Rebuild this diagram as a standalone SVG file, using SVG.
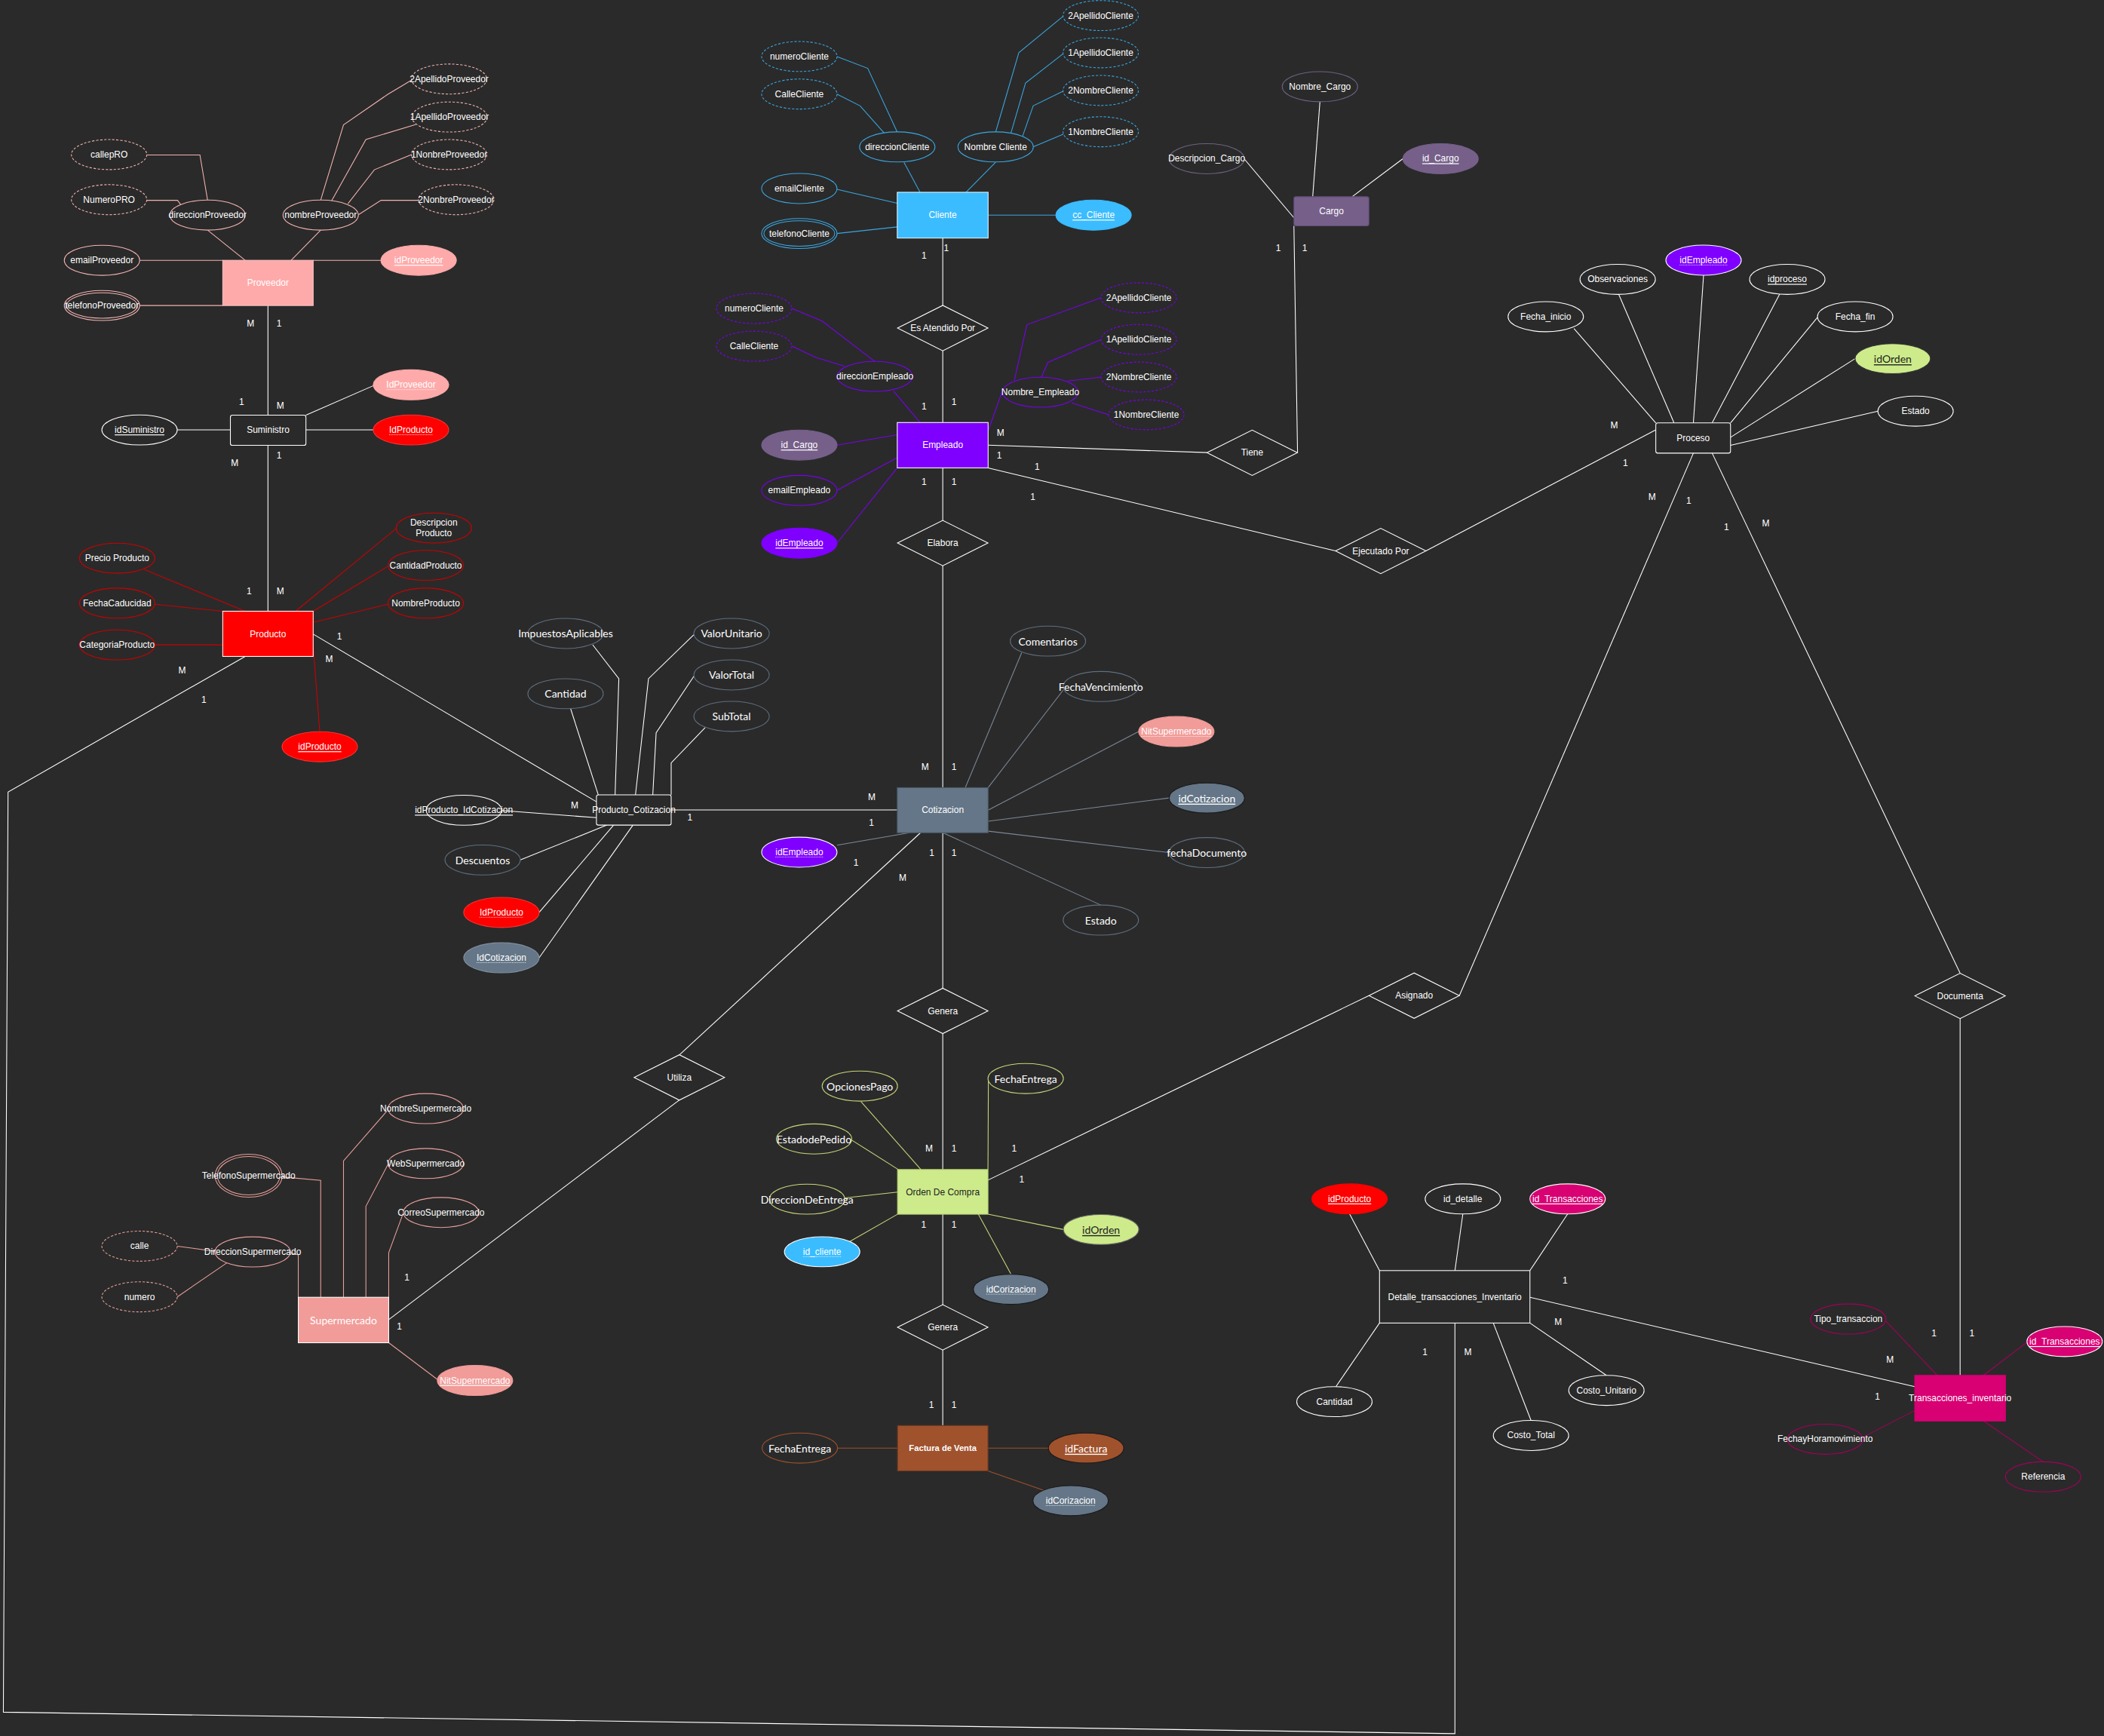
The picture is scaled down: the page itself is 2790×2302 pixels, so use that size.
<svg xmlns="http://www.w3.org/2000/svg" width="2790" height="2302" viewBox="0 0 2790 2302">
<style>
text{font-family:"Liberation Sans",Arial,Helvetica,sans-serif;font-size:6.74px;fill:#ffffff;text-anchor:middle;dominant-baseline:central}
text.lg{font-family:Lato,"Open Sans",sans-serif;font-size:7.87px}
text.dk{fill:#222222}
text.u{text-decoration:underline}
text.b{font-weight:bold}
text.cd{font-size:6.74px}
.c path{fill:none;stroke-width:0.6}
ellipse,rect,polygon{stroke-width:0.6}
.e{fill:#2a2a2a}
.dsh{stroke-dasharray:1.8 1.2}
.rel{fill:#2a2a2a;stroke:#ffffff}
.dot{stroke:#ffffff;stroke-width:0.45;stroke-dasharray:0.6 0.6}
.w{stroke:#ffffff}
.pv{stroke:#f2b4b2}
.cl{stroke:#3aa6e0}
.em{stroke:#7a00f0}
.pr{stroke:#cc0000}
.sl{stroke:#5f6e7e}
.gy{stroke:#7d8997}
.og{stroke:#c8d77a}
.fa{stroke:#a0522d}
.sm{stroke:#e9a09c}
.tr{stroke:#a3005c}
.cg{stroke:#6e6280}
.k{stroke:#1a1a1a}
.fpk{fill:#ffaaaa}
.fred{fill:#ff0000}
.fblu{fill:#3bbcff}
.fpur{fill:#7f00ff}
.fcg{fill:#76608a}
.fsl{fill:#647687}
.fgr{fill:#cdeb8b}
.ffa{fill:#a0522d}
.fsm{fill:#f19c99}
.fmg{fill:#d80073}
</style>
<rect width="2790" height="2302" fill="#2a2a2a"/>
<g transform="scale(1.7793)">

<g id="connectors" class="c">
<!-- Proveedor attrs -->
<path class="pv" d="M233.4,194 H283.9"/>
<path class="pv" d="M104.1,194 H166"/>
<path class="pv" d="M104.1,227.7 H166"/>
<path class="pv" d="M154.7,171.5 L182.7,194"/>
<path class="pv" d="M239,171.5 L217,194"/>
<path class="pv" d="M109.4,115.5 H149 L154.7,149.1"/>
<path class="pv" d="M109.4,149.3 H132.3 L135,152.9"/>
<path class="pv" d="M306.7,59.7 L289.3,70.1 L256,93 L239,149.1"/>
<path class="pv" d="M310,92.7 L272.7,104 L247,149.9"/>
<path class="pv" d="M306.7,115.2 L279,126.5 L259.3,151.8"/>
<path class="pv" d="M311.9,149.3 H284 L267.1,160"/>
<!-- Suministro -->
<path class="w" d="M199.7,227.7 V309.4"/>
<path class="w" d="M199.7,331.9 V455.5"/>
<path class="w" d="M132.1,320.4 H171.7"/>
<path class="w" d="M228,309.4 L278.3,287.4"/>
<path class="w" d="M228,320.4 H278.2"/>
<!-- Producto attrs -->
<path class="pr" d="M107.7,424.5 L182.7,455.5"/>
<path class="pr" d="M115.4,450.3 L166,455.5"/>
<path class="pr" d="M115.4,480.6 H166"/>
<path class="pr" d="M295.7,393.5 L220.3,455.5"/>
<path class="pr" d="M289.2,422 L233.4,455.5"/>
<path class="pr" d="M289.2,450.3 L233.4,463.8"/>
<path class="pr" d="M233.4,481.4 L238.3,545.3"/>
<!-- Producto relations -->
<path class="w" d="M233.4,472.6 L444.5,597.5"/>
<path class="w" d="M182.7,489.2 L6,590.3 L2.5,1276 L1084.3,1292 V986"/>
<!-- Producto_Cotizacion attrs -->
<path class="w" d="M441.7,480.5 L461.2,505.8 L458.4,592.4"/>
<path class="w" d="M425.3,528.3 L445.9,592.4"/>
<path class="w" d="M517.1,473 L483.3,505.8 L473.6,592.4"/>
<path class="w" d="M517.1,504 L489,546.1 L486.5,592.4"/>
<path class="w" d="M525.5,542.3 L500.2,568.6 V592.4"/>
<path class="w" d="M373.8,604 L444.5,609.4"/>
<path class="w" d="M387.8,640.9 L452.3,614.9"/>
<path class="w" d="M401.8,680 L457.3,614.9"/>
<path class="w" d="M401.8,713.8 L471.7,614.9"/>
<path class="w" d="M500.2,603.6 H668.7"/>
<!-- Cliente attrs -->
<path class="cl" d="M736.4,160.3 H786.9"/>
<path class="cl" d="M623.7,141.1 L668.7,151.5"/>
<path class="cl" d="M623.7,174 L668.7,169.1"/>
<path class="cl" d="M673.7,121 L685.7,143.3"/>
<path class="cl" d="M742,120.9 L720,143.3"/>
<path class="cl" d="M623.7,42.1 L646.7,50.9 L668.7,98.5"/>
<path class="cl" d="M623.7,70.1 L641,78.9 L659.3,99.6"/>
<path class="cl" d="M793.3,11.3 L759.3,39.3 L742,98.5"/>
<path class="cl" d="M793.3,39.3 L764.3,61.9 L753.3,99.6"/>
<path class="cl" d="M793.3,67.4 L770,78.9 L762,101.8"/>
<path class="cl" d="M793.3,99.6 L770,109.5"/>
<!-- Cliente / Empleado relations -->
<path class="w" d="M702.6,177.4 V227.7"/>
<path class="w" d="M702.6,261.3 V314.9"/>
<path class="w" d="M736.4,331.7 L899.5,337.3"/>
<path class="w" d="M967,337.3 L964.3,168.3"/>
<path class="w" d="M736.4,348.7 L995.3,410.5"/>
<path class="w" d="M1062.7,410.5 L1234,320.4"/>
<path class="w" d="M702.6,348.7 V388"/>
<path class="w" d="M702.6,421.5 V587"/>
<!-- Empleado attrs -->
<path class="em" d="M623.7,331.7 L668.7,324"/>
<path class="em" d="M623.7,365.5 L668.7,341"/>
<path class="em" d="M623.7,404.8 L668.7,348.7"/>
<path class="em" d="M666,291.5 L685.7,314.9"/>
<path class="em" d="M590.3,229.9 L612.7,239.3 L652,269.4"/>
<path class="em" d="M590.3,258 L607.7,266.2 L629.3,272.8"/>
<path class="em" d="M746.7,292.3 L736.4,321.2"/>
<path class="em" d="M820.6,221.9 L765.3,242 L756,283.3"/>
<path class="em" d="M820.6,253 L781,270 L776,281.3"/>
<path class="em" d="M820.6,281 L796,284"/>
<path class="em" d="M826.2,309.1 L798.7,300.3"/>
<!-- Cargo attrs -->
<path class="w" d="M927.2,118.3 L964.3,162.3"/>
<path class="w" d="M983.7,75.8 L978.3,146.6"/>
<path class="w" d="M1007.7,146.6 L1045.5,118.3"/>
<!-- Proceso attrs -->
<path class="w" d="M1173,244.8 L1234,315.2"/>
<path class="w" d="M1206.3,219.2 L1247.6,315.2"/>
<path class="w" d="M1269.6,205.1 L1262,315.2"/>
<path class="w" d="M1326.3,219.2 L1276,315.2"/>
<path class="w" d="M1354.5,236.5 L1289.7,315.2"/>
<path class="w" d="M1382.5,267.3 L1289.7,325.9"/>
<path class="w" d="M1399.5,306.4 L1289.7,331.9"/>
<!-- Proceso relations -->
<path class="w" d="M1087.6,742 L1262,337.7"/>
<path class="w" d="M1276,337.7 L1460.8,725.3"/>
<path class="w" d="M1460.8,759.1 V1025"/>
<!-- Cotizacion attrs -->
<path class="gy" d="M761.4,486.4 L719.4,587"/>
<path class="gy" d="M792.3,514.4 L736.4,587"/>
<path class="gy" d="M848.6,545.2 L736.4,603.8"/>
<path class="gy" d="M871.3,594.7 L736.4,612"/>
<path class="gy" d="M871.3,635.4 L736.4,619.4"/>
<path class="gy" d="M820.4,674.5 L702.7,620.6"/>
<path class="gy" d="M623.8,629.9 L677.7,620.6"/>
<!-- Cotizacion relations -->
<path class="w" d="M686,620.6 L506.3,786.2"/>
<path class="w" d="M506.3,819.8 L289.7,983.5"/>
<path class="w" d="M702.6,620.6 V736.6"/>
<path class="w" d="M702.6,770.2 V871.6"/>
<path class="w" d="M736.3,879.5 L1020.2,742"/>
<path class="w" d="M702.6,904.9 V972.5"/>
<path class="w" d="M702.6,1006 V1062.4"/>
<!-- Orden attrs -->
<path class="og" d="M641.7,821 L686.7,872"/>
<path class="og" d="M736.6,805.4 L736.3,871.6"/>
<path class="og" d="M634.8,849.7 L669.5,871.6"/>
<path class="og" d="M629.6,892.8 L668.9,888.4"/>
<path class="og" d="M633.1,925.4 L668.9,904.9"/>
<path class="og" d="M792.5,916.3 L736.3,904.9"/>
<path class="og" d="M753.5,949.7 L729.1,904.9"/>
<!-- Factura attrs -->
<path class="fa" d="M624.2,1079.2 H668.9"/>
<path class="fa" d="M736.3,1079.2 H781.3"/>
<path class="fa" d="M736.3,1096.2 L777.9,1110.7"/>
<!-- Supermercado attrs -->
<path class="sm" d="M288.3,828.1 L256,865.2 V966.8"/>
<path class="sm" d="M289.3,867.5 L272.7,899 V966.8"/>
<path class="sm" d="M300,905.5 L289.7,933.6 V966.8"/>
<path class="sm" d="M210.3,877.1 L239,879.7 V966.8"/>
<path class="sm" d="M216.4,933.6 L222.3,935.2 V966.8"/>
<path class="sm" d="M132.1,928.7 L160.6,932.6"/>
<path class="sm" d="M132.1,966.5 L169.3,941"/>
<path class="sm" d="M289.7,1000.7 L326,1028.1"/>
<!-- Detalle -->
<path class="w" d="M1005.8,904.7 L1028.1,946.9"/>
<path class="w" d="M1090.2,904.7 L1084.3,946.9"/>
<path class="w" d="M1168.3,904.7 L1140.2,946.9"/>
<path class="w" d="M1028.1,986 L995.6,1033.4"/>
<path class="w" d="M1112.9,986 L1141,1058.6"/>
<path class="w" d="M1140.2,986 L1197.2,1025"/>
<path class="w" d="M1140.2,966.8 L1427,1033.4"/>
<!-- Transacciones attrs -->
<path class="tr" d="M1405.5,984.6 L1443.8,1025"/>
<path class="tr" d="M1478.2,1025 L1510.8,1000.2"/>
<path class="tr" d="M1427,1051.2 L1387.1,1071.7"/>
<path class="tr" d="M1478.2,1059 L1522.7,1089.4"/>
</g>

<g id="cardinalities">
<text x="186.7" y="240.9">M</text><text x="208" y="240.9">1</text>
<text x="180" y="299.8">1</text><text x="209" y="302.5">M</text>
<text x="175" y="344.9">M</text><text x="208" y="339.6">1</text>
<text x="185.7" y="440.7">1</text><text x="209" y="440.7">M</text>
<text x="253" y="474.3">1</text><text x="245.3" y="491">M</text>
<text x="135.7" y="499.5">M</text><text x="152" y="521.8">1</text>
<text x="428.2" y="600">M</text><text x="514.2" y="609">1</text>
<text x="688.7" y="190.3">1</text><text x="705.3" y="184.8">1</text>
<text x="688.7" y="303">1</text><text x="711" y="299.8">1</text>
<text x="745.7" y="322.6">M</text><text x="744.7" y="339.6">1</text>
<text x="773" y="347.9">1</text><text x="769.7" y="370.2">1</text>
<text x="952.7" y="184.8">1</text><text x="972.3" y="184.8">1</text>
<text x="688.7" y="358.9">1</text><text x="711" y="358.9">1</text>
<text x="1203" y="316.8">M</text><text x="1211.3" y="345.1">1</text>
<text x="1231.3" y="370.2">M</text><text x="1258.6" y="373.2">1</text>
<text x="1286.6" y="392.7">1</text><text x="1316" y="390">M</text>
<text x="689.4" y="571.6">M</text><text x="711" y="571.6">1</text>
<text x="649.7" y="593.9">M</text><text x="649.4" y="613.4">1</text>
<text x="638" y="642.8">1</text><text x="672.7" y="654.1">M</text>
<text x="694.4" y="635.9">1</text><text x="711" y="635.9">1</text>
<text x="692.4" y="856.2">M</text><text x="711" y="856.2">1</text>
<text x="755.8" y="856.2">1</text><text x="761.5" y="878.8">1</text>
<text x="688.4" y="912.6">1</text><text x="711" y="912.6">1</text>
<text x="694.2" y="1047.3">1</text><text x="711" y="1047.3">1</text>
<text x="303.3" y="952">1</text><text x="297.7" y="988.4">1</text>
<text x="1062" y="1007.5">1</text><text x="1094" y="1007.5">M</text>
<text x="1166.4" y="954.5">1</text><text x="1161.3" y="985.3">M</text>
<text x="1408.6" y="1013.3">M</text><text x="1399.2" y="1040.9">1</text>
<text x="1441.4" y="993.5">1</text><text x="1469.6" y="993.5">1</text>
</g>

<!-- ENTITIES -->
<g id="proveedor"><rect x="166" y="194" width="67.4" height="33.7" class="fpk" stroke="#ffc4c4"/><text x="199.7" y="210.9">Proveedor</text></g>
<g id="suministro"><rect x="171.7" y="309.4" width="56.3" height="22.5" rx="1.5" class="e w"/><text x="199.8" y="320.6">Suministro</text></g>
<g id="producto"><rect x="166" y="455.5" width="67.4" height="33.7" class="fred" stroke="#ffffff"/><text x="199.7" y="472.4">Producto</text></g>
<g id="producto_cotizacion"><rect x="444.5" y="592.4" width="55.7" height="22.5" rx="1.5" class="e w"/><text x="472.4" y="603.6">Producto_Cotizacion</text></g>
<g id="cliente"><rect x="668.7" y="143.3" width="67.7" height="34.1" class="fblu" stroke="#e6f6ff"/><text x="702.6" y="160.3">Cliente</text></g>
<g id="empleado"><rect x="668.7" y="314.9" width="67.7" height="33.8" class="fpur" stroke="#ffffff"/><text x="702.6" y="331.8">Empleado</text></g>
<g id="cargo"><rect x="964.3" y="146.6" width="55.9" height="21.7" rx="1.5" class="fcg" stroke="#5d4c73"/><text x="992.3" y="157.5">Cargo</text></g>
<g id="cotizacion"><rect x="668.7" y="587" width="67.7" height="33.6" class="fsl" stroke="#4a5866"/><text x="702.6" y="603.8">Cotizacion</text></g>
<g id="proceso"><rect x="1234" y="315.2" width="55.7" height="22.5" rx="1.5" class="e w"/><text x="1261.9" y="326.5">Proceso</text></g>
<g id="orden_de_compra"><rect x="668.9" y="871.6" width="67.4" height="33.3" class="fgr" stroke="#b8d470"/><text class="dk" x="702.6" y="888.3">Orden De Compra</text></g>
<g id="factura_de_venta"><rect x="668.9" y="1062.4" width="67.4" height="33.8" class="ffa" stroke="#6d3a1f"/><text class="b" x="702.6" y="1079.3" style="font-size:6.3px">Factura de Venta</text></g>
<g id="supermercado"><rect x="222.3" y="966.8" width="67.4" height="33.9" class="fsm" stroke="#ffffff"/><text class="lg" x="256" y="983.8">Supermercado</text></g>
<g id="detalle_transacciones_inventario"><rect x="1028.1" y="946.9" width="112.1" height="39.1" class="e w"/><text x="1084.2" y="966.5">Detalle_transacciones_Inventario</text></g>
<g id="transacciones_inventario"><rect x="1427" y="1025" width="67.6" height="34" class="fmg" stroke="#d80073"/><text x="1460.8" y="1042">Transacciones_inventario</text></g>

<!-- RELATIONSHIPS -->
<g id="rel_es_atendido_por"><polygon class="rel" points="668.9,244.5 702.6,227.6 736.3,244.5 702.6,261.4"/><text x="702.6" y="244.5">Es Atendido  Por</text></g>
<g id="rel_tiene"><polygon class="rel" points="899.5,337.4 933.2,320.5 966.9,337.4 933.2,354.3"/><text x="933.2" y="337.4">Tiene</text></g>
<g id="rel_elabora"><polygon class="rel" points="668.9,404.7 702.6,387.8 736.3,404.7 702.6,421.6"/><text x="702.6" y="404.7">Elabora</text></g>
<g id="rel_ejecutado_por"><polygon class="rel" points="995.3,410.6 1029,393.7 1062.7,410.6 1029,427.5"/><text x="1029" y="410.6">Ejecutado Por</text></g>
<g id="rel_genera_1"><polygon class="rel" points="668.9,753.4 702.6,736.5 736.3,753.4 702.6,770.3"/><text x="702.6" y="753.4">Genera</text></g>
<g id="rel_genera_2"><polygon class="rel" points="668.9,989.2 702.6,972.3 736.3,989.2 702.6,1006.1"/><text x="702.6" y="989.2">Genera</text></g>
<g id="rel_utiliza"><polygon class="rel" points="472.6,803 506.3,786.1 540,803 506.3,819.9"/><text x="506.3" y="803">Utiliza</text></g>
<g id="rel_asignado"><polygon class="rel" points="1020.2,742 1053.9,725.1 1087.6,742 1053.9,758.9"/><text x="1053.9" y="742">Asignado</text></g>
<g id="rel_documenta"><polygon class="rel" points="1427.1,742.2 1460.8,725.3 1494.5,742.2 1460.8,759.1"/><text x="1460.8" y="742.2">Documenta</text></g>

<!-- PROVEEDOR ATTRIBUTES -->
<g id="a_emailProveedor"><ellipse class="e pv" cx="76" cy="194" rx="28.1" ry="11.2"/><text x="76" y="194">emailProveedor</text></g>
<g id="a_telefonoProveedor"><ellipse class="e pv" cx="76" cy="227.7" rx="28.1" ry="11.2"/><ellipse class="e pv" cx="76" cy="227.7" rx="26.4" ry="9.5"/><text x="76" y="227.7">telefonoProveedor</text></g>
<g id="a_idProveedor"><ellipse class="fpk" stroke="#ffaaaa" cx="312" cy="194" rx="28.1" ry="11.2"/><text class="u" x="312" y="194">idProveedor</text></g>
<g id="a_direccionProveedor"><ellipse class="e pv" cx="154.7" cy="160.3" rx="28.1" ry="11.2"/><text x="154.7" y="160.3">direccionProveedor</text></g>
<g id="a_nombreProveedor"><ellipse class="e pv" cx="239" cy="160.3" rx="28.1" ry="11.2"/><text x="239" y="160.3">nombreProveedor</text></g>
<g id="a_callepRO"><ellipse class="e pv dsh" cx="81.3" cy="115.2" rx="28.1" ry="11.2"/><text x="81.3" y="115.2">callepRO</text></g>
<g id="a_NumeroPRO"><ellipse class="e pv dsh" cx="81.3" cy="148.8" rx="28.1" ry="11.2"/><text x="81.3" y="148.8">NumeroPRO</text></g>
<g id="a_2ApellidoProveedor"><ellipse class="e pv dsh" cx="334.7" cy="58.9" rx="28.1" ry="11.2"/><text x="334.7" y="58.9">2ApellidoProveedor</text></g>
<g id="a_1ApellidoProveedor"><ellipse class="e pv dsh" cx="335" cy="87.2" rx="28.1" ry="11.2"/><text x="335" y="87.2">1ApellidoProveedor</text></g>
<g id="a_1NonbreProveedor"><ellipse class="e pv dsh" cx="334.7" cy="115.2" rx="28.1" ry="11.2"/><text x="334.7" y="115.2">1NonbreProveedor</text></g>
<g id="a_2NonbreProveedor"><ellipse class="e pv dsh" cx="340" cy="148.8" rx="28.1" ry="11.2"/><text x="340" y="148.8">2NonbreProveedor</text></g>

<!-- SUMINISTRO ATTRIBUTES -->
<g id="a_idSuministro"><ellipse class="e w" cx="104" cy="320.4" rx="28.1" ry="11.2"/><text class="u" x="104" y="320.4">idSuministro</text></g>
<g id="a_sum_IdProveedor"><ellipse class="fpk" stroke="#ffaaaa" cx="306.3" cy="286.8" rx="28.1" ry="11.2"/><text x="306.3" y="286.8">IdProveedor</text><line class="dot" x1="288" y1="290.4" x2="324.7" y2="290.4"/></g>
<g id="a_sum_IdProducto"><ellipse class="fred" stroke="#ff3030" cx="306.3" cy="320.4" rx="28.1" ry="11.2"/><text x="306.3" y="320.4">IdProducto</text><line class="dot" x1="290" y1="324" x2="322.6" y2="324"/></g>

<!-- PRODUCTO ATTRIBUTES -->
<g id="a_PrecioProducto"><ellipse class="e pr" cx="87.3" cy="416" rx="28.1" ry="11.2"/><text x="87.3" y="416">Precio Producto</text></g>
<g id="a_FechaCaducidad"><ellipse class="e pr" cx="87.3" cy="449.5" rx="28.1" ry="11.2"/><text x="87.3" y="449.5">FechaCaducidad</text></g>
<g id="a_CategoriaProducto"><ellipse class="e pr" cx="87.3" cy="480.6" rx="28.1" ry="11.2"/><text x="87.3" y="480.6">CategoriaProducto</text></g>
<g id="a_DescripcionProducto"><ellipse class="e pr" cx="323.3" cy="393.5" rx="28.1" ry="11.2"/><text x="323.3" y="389.6">Descripcion</text><text x="323.3" y="397.6">Producto</text></g>
<g id="a_CantidadProducto"><ellipse class="e pr" cx="317.3" cy="421.3" rx="28.1" ry="11.2"/><text x="317.3" y="421.3">CantidadProducto</text></g>
<g id="a_NombreProducto"><ellipse class="e pr" cx="317.3" cy="449.5" rx="28.1" ry="11.2"/><text x="317.3" y="449.5">NombreProducto</text></g>
<g id="a_idProducto"><ellipse class="fred" stroke="#ff3030" cx="238.3" cy="556.5" rx="28.1" ry="11.2"/><text class="u" x="238.3" y="556.5">idProducto</text></g>

<!-- PRODUCTO_COTIZACION ATTRIBUTES -->
<g id="a_ImpuestosAplicables"><ellipse class="e sl" cx="421.5" cy="472.1" rx="28.1" ry="11.2"/><text class="lg" x="421.5" y="472.1">ImpuestosAplicables</text></g>
<g id="a_pc_Cantidad"><ellipse class="e sl" cx="421.5" cy="517" rx="28.1" ry="11.2"/><text class="lg" x="421.5" y="517">Cantidad</text></g>
<g id="a_ValorUnitario"><ellipse class="e sl" cx="545.2" cy="472.1" rx="28.1" ry="11.2"/><text class="lg" x="545.2" y="472.1">ValorUnitario</text></g>
<g id="a_ValorTotal"><ellipse class="e sl" cx="545.2" cy="503" rx="28.1" ry="11.2"/><text class="lg" x="545.2" y="503">ValorTotal</text></g>
<g id="a_SubTotal"><ellipse class="e sl" cx="545.2" cy="533.9" rx="28.1" ry="11.2"/><text class="lg" x="545.2" y="533.9">SubTotal</text></g>
<g id="a_idProducto_IdCotizacion"><ellipse class="e w" cx="345.7" cy="603.8" rx="28.1" ry="11.2"/><text class="u" x="345.7" y="603.8">idProducto_IdCotizacion</text></g>
<g id="a_Descuentos"><ellipse class="e sl" cx="359.7" cy="640.9" rx="28.1" ry="11.2"/><text class="lg" x="359.7" y="640.9">Descuentos</text></g>
<g id="a_pc_IdProducto"><ellipse class="fred" stroke="#ff3030" cx="373.7" cy="680" rx="28.1" ry="11.2"/><text x="373.7" y="680">IdProducto</text><line class="dot" x1="357.4" y1="683.6" x2="390" y2="683.6"/></g>
<g id="a_pc_IdCotizacion"><ellipse class="fsl" stroke="#8090a0" cx="373.7" cy="713.8" rx="28.1" ry="11.2"/><text x="373.7" y="713.8">IdCotizacion</text><line class="dot" x1="355.2" y1="717.4" x2="392.2" y2="717.4"/></g>

<!-- CLIENTE ATTRIBUTES -->
<g id="a_numeroCliente"><ellipse class="e cl dsh" cx="595.7" cy="42.1" rx="28.1" ry="11.2"/><text x="595.7" y="42.1">numeroCliente</text></g>
<g id="a_CalleCliente"><ellipse class="e cl dsh" cx="595.7" cy="70.1" rx="28.1" ry="11.2"/><text x="595.7" y="70.1">CalleCliente</text></g>
<g id="a_direccionCliente"><ellipse class="e cl" cx="668.7" cy="109.5" rx="28.1" ry="11.2"/><text x="668.7" y="109.5">direccionCliente</text></g>
<g id="a_NombreCliente"><ellipse class="e cl" cx="742" cy="109.5" rx="28.1" ry="11.2"/><text x="742" y="109.5">Nombre Cliente</text></g>
<g id="a_2ApellidoCliente"><ellipse class="e cl dsh" cx="820.3" cy="11.6" rx="28.1" ry="11.2"/><text x="820.3" y="11.6">2ApellidoCliente</text></g>
<g id="a_1ApellidoCliente"><ellipse class="e cl dsh" cx="820.3" cy="39.3" rx="28.1" ry="11.2"/><text x="820.3" y="39.3">1ApellidoCliente</text></g>
<g id="a_2NombreCliente"><ellipse class="e cl dsh" cx="820.3" cy="67.4" rx="28.1" ry="11.2"/><text x="820.3" y="67.4">2NombreCliente</text></g>
<g id="a_1NombreCliente"><ellipse class="e cl dsh" cx="820.3" cy="98.2" rx="28.1" ry="11.2"/><text x="820.3" y="98.2">1NombreCliente</text></g>
<g id="a_emailCliente"><ellipse class="e cl" cx="595.7" cy="140.5" rx="28.1" ry="11.2"/><text x="595.7" y="140.5">emailCliente</text></g>
<g id="a_telefonoCliente"><ellipse class="e cl" cx="595.7" cy="174" rx="28.1" ry="11.2"/><ellipse class="e cl" cx="595.7" cy="174" rx="26.4" ry="9.5"/><text x="595.7" y="174">telefonoCliente</text></g>
<g id="a_cc_Cliente"><ellipse class="fblu" stroke="#3bbcff" cx="815" cy="160.3" rx="28.1" ry="11.2"/><text class="u" x="815" y="160.3">cc_Cliente</text></g>

<!-- EMPLEADO ATTRIBUTES -->
<g id="a_emp_numeroCliente"><ellipse class="e em dsh" cx="562" cy="229.9" rx="28.1" ry="11.2"/><text x="562" y="229.9">numeroCliente</text></g>
<g id="a_emp_CalleCliente"><ellipse class="e em dsh" cx="562" cy="258" rx="28.1" ry="11.2"/><text x="562" y="258">CalleCliente</text></g>
<g id="a_direccionEmpleado"><ellipse class="e em" cx="652" cy="280.5" rx="28.1" ry="11.2"/><text x="652" y="280.5">direccionEmpleado</text></g>
<g id="a_Nombre_Empleado"><ellipse class="e em" cx="775.3" cy="292.3" rx="28.1" ry="11.2"/><text x="775.3" y="292.3">Nombre_Empleado</text></g>
<g id="a_emp_2ApellidoCliente"><ellipse class="e em dsh" cx="848.7" cy="221.9" rx="28.1" ry="11.2"/><text x="848.7" y="221.9">2ApellidoCliente</text></g>
<g id="a_emp_1ApellidoCliente"><ellipse class="e em dsh" cx="848.7" cy="253" rx="28.1" ry="11.2"/><text x="848.7" y="253">1ApellidoCliente</text></g>
<g id="a_emp_2NombreCliente"><ellipse class="e em dsh" cx="848.7" cy="281" rx="28.1" ry="11.2"/><text x="848.7" y="281">2NombreCliente</text></g>
<g id="a_emp_1NombreCliente"><ellipse class="e em dsh" cx="854.3" cy="309.1" rx="28.1" ry="11.2"/><text x="854.3" y="309.1">1NombreCliente</text></g>
<g id="a_emp_id_Cargo"><ellipse class="fcg" stroke="#76608a" cx="595.7" cy="331.7" rx="28.1" ry="11.2"/><text class="u" x="595.7" y="331.7">id_Cargo</text></g>
<g id="a_emailEmpleado"><ellipse class="e em" cx="595.7" cy="365.5" rx="28.1" ry="11.2"/><text x="595.7" y="365.5">emailEmpleado</text></g>
<g id="a_idEmpleado"><ellipse class="fpur" stroke="#7f00ff" cx="595.7" cy="404.8" rx="28.1" ry="11.2"/><text class="u" x="595.7" y="404.8">idEmpleado</text></g>

<!-- CARGO ATTRIBUTES -->
<g id="a_Descripcion_Cargo"><ellipse class="e cg" cx="899.3" cy="118.3" rx="28.1" ry="11.2"/><text x="899.3" y="118.3">Descripcion_Cargo</text></g>
<g id="a_Nombre_Cargo"><ellipse class="e cg" cx="983.7" cy="64.6" rx="28.1" ry="11.2"/><text x="983.7" y="64.6">Nombre_Cargo</text></g>
<g id="a_id_Cargo"><ellipse class="fcg" stroke="#76608a" cx="1073.6" cy="118.3" rx="28.1" ry="11.2"/><text class="u" x="1073.6" y="118.3">id_Cargo</text></g>

<!-- PROCESO ATTRIBUTES -->
<g id="a_Fecha_inicio"><ellipse class="e w" cx="1152" cy="236" rx="28.1" ry="11.2"/><text x="1152" y="236">Fecha_inicio</text></g>
<g id="a_Observaciones"><ellipse class="e w" cx="1205.6" cy="208.2" rx="28.1" ry="11.2"/><text x="1205.6" y="208.2">Observaciones</text></g>
<g id="a_pro_idEmpleado"><ellipse class="fpur" stroke="#ffffff" cx="1269.6" cy="193.9" rx="28.1" ry="11.2"/><text x="1269.6" y="193.9">idEmpleado</text><line class="dot" x1="1251.8" y1="197.5" x2="1287.4" y2="197.5"/></g>
<g id="a_idproceso"><ellipse class="e w" cx="1332" cy="208.2" rx="28.1" ry="11.2"/><text class="u" x="1332" y="208.2">idproceso</text></g>
<g id="a_Fecha_fin"><ellipse class="e w" cx="1382.6" cy="236" rx="28.1" ry="11.2"/><text x="1382.6" y="236">Fecha_fin</text></g>
<g id="a_pro_idOrden"><ellipse class="fgr" stroke="#333333" cx="1410.6" cy="267.3" rx="28.1" ry="11.2"/><text class="lg dk u" x="1410.6" y="267.3">idOrden</text></g>
<g id="a_pro_Estado"><ellipse class="e w" cx="1427.6" cy="306.4" rx="28.1" ry="11.2"/><text x="1427.6" y="306.4">Estado</text></g>

<!-- COTIZACION ATTRIBUTES -->
<g id="a_Comentarios"><ellipse class="e sl" cx="781" cy="477.8" rx="28.1" ry="11.2"/><text class="lg" x="781" y="477.8">Comentarios</text></g>
<g id="a_FechaVencimiento"><ellipse class="e sl" cx="820.4" cy="511.6" rx="28.1" ry="11.2"/><text class="lg" x="820.4" y="511.6">FechaVencimiento</text></g>
<g id="a_cot_NitSupermercado"><ellipse class="fsm" stroke="#f19c99" cx="876.7" cy="545.2" rx="28.1" ry="11.2"/><text x="876.7" y="545.2">NitSupermercado</text><line class="dot" x1="850.5" y1="548.8" x2="902.9" y2="548.8"/></g>
<g id="a_idCotizacion"><ellipse class="fsl k" cx="899.4" cy="594.7" rx="28.1" ry="11.2"/><text class="lg u" x="899.4" y="594.7">idCotizacion</text></g>
<g id="a_fechaDocumento"><ellipse class="e sl" cx="899.4" cy="635.4" rx="28.1" ry="11.2"/><text class="lg" x="899.4" y="635.4">fechaDocumento</text></g>
<g id="a_cot_Estado"><ellipse class="e sl" cx="820.4" cy="685.7" rx="28.1" ry="11.2"/><text class="lg" x="820.4" y="685.7">Estado</text></g>
<g id="a_cot_idEmpleado"><ellipse class="fpur" stroke="#ffffff" cx="595.7" cy="635.1" rx="28.1" ry="11.2"/><text x="595.7" y="635.1">idEmpleado</text><line class="dot" x1="577.9" y1="638.7" x2="613.5" y2="638.7"/></g>

<!-- ORDEN ATTRIBUTES -->
<g id="a_OpcionesPago"><ellipse class="e og" cx="640.8" cy="809.4" rx="28.1" ry="11.2"/><text class="lg" x="640.8" y="809.4">OpcionesPago</text></g>
<g id="a_ord_FechaEntrega"><ellipse class="e og" cx="764.4" cy="803.8" rx="28.1" ry="11.2"/><text class="lg" x="764.4" y="803.8">FechaEntrega</text></g>
<g id="a_EstadodePedido"><ellipse class="e og" cx="606.7" cy="848.8" rx="28.1" ry="11.2"/><text class="lg" x="606.7" y="848.8">EstadodePedido</text></g>
<g id="a_DireccionDeEntrega"><ellipse class="e og" cx="601.5" cy="893.7" rx="28.1" ry="11.2"/><text class="lg" x="601.5" y="893.7">DireccionDeEntrega</text></g>
<g id="a_id_cliente"><ellipse class="fblu" stroke="#ffffff" cx="612.7" cy="932.9" rx="28.1" ry="11.2"/><text x="612.7" y="932.9">id_cliente</text><line class="dot" x1="598.5" y1="936.5" x2="626.9" y2="936.5"/></g>
<g id="a_idOrden"><ellipse class="fgr" stroke="#666666" cx="820.6" cy="916.3" rx="28.1" ry="11.2"/><text class="lg dk u" x="820.6" y="916.3">idOrden</text></g>
<g id="a_ord_idCorizacion"><ellipse class="fsl k" cx="753.5" cy="960.9" rx="28.1" ry="11.2"/><text x="753.5" y="960.9">idCorizacion</text><line class="dot" x1="735" y1="964.5" x2="772" y2="964.5"/></g>

<!-- FACTURA ATTRIBUTES -->
<g id="a_fac_FechaEntrega"><ellipse class="e fa" cx="596.1" cy="1079.2" rx="28.1" ry="11.2"/><text class="lg" x="596.1" y="1079.2">FechaEntrega</text></g>
<g id="a_idFactura"><ellipse class="ffa k" cx="809.4" cy="1079.2" rx="28.1" ry="11.2"/><text class="lg u" x="809.4" y="1079.2">idFactura</text></g>
<g id="a_fac_idCorizacion"><ellipse class="fsl k" cx="797.9" cy="1118.4" rx="28.1" ry="11.2"/><text x="797.9" y="1118.4">idCorizacion</text><line class="dot" x1="779.4" y1="1122" x2="816.4" y2="1122"/></g>

<!-- SUPERMERCADO ATTRIBUTES -->
<g id="a_NombreSupermercado"><ellipse class="e sm" cx="317.3" cy="826.2" rx="28.1" ry="11.2"/><text x="317.3" y="826.2">NombreSupermercado</text></g>
<g id="a_WebSupermercado"><ellipse class="e sm" cx="317.3" cy="867.1" rx="28.1" ry="11.2"/><text x="317.3" y="867.1">WebSupermercado</text></g>
<g id="a_CorreoSupermercado"><ellipse class="e sm" cx="328.7" cy="903.6" rx="28.1" ry="11.2"/><text x="328.7" y="903.6">CorreoSupermercado</text></g>
<g id="a_TelefonoSupermercado"><ellipse class="e sm" cx="185.3" cy="876.2" rx="25" ry="16"/><ellipse class="e sm" cx="185.3" cy="876.2" rx="23.3" ry="14.3"/><text x="185.3" y="876.2">TelefonoSupermercado</text></g>
<g id="a_DireccionSupermercado"><ellipse class="e sm" cx="188.3" cy="933" rx="28.1" ry="11.2"/><text x="188.3" y="933">DireccionSupermercado</text></g>
<g id="a_calle"><ellipse class="e sm dsh" cx="104" cy="928.7" rx="28.1" ry="11.2"/><text x="104" y="928.7">calle</text></g>
<g id="a_numero"><ellipse class="e sm dsh" cx="104" cy="966.5" rx="28.1" ry="11.2"/><text x="104" y="966.5">numero</text></g>
<g id="a_NitSupermercado"><ellipse class="fsm" stroke="#f19c99" cx="354" cy="1028.8" rx="28.1" ry="11.2"/><text class="u" x="354" y="1028.8">NitSupermercado</text></g>

<!-- DETALLE ATTRIBUTES -->
<g id="a_det_idProducto"><ellipse class="fred" stroke="#ff0000" cx="1005.8" cy="893.5" rx="28.1" ry="11.2"/><text class="u" x="1005.8" y="893.5">idProducto</text></g>
<g id="a_id_detalle"><ellipse class="e w" cx="1090.2" cy="893.5" rx="28.1" ry="11.2"/><text x="1090.2" y="893.5">id_detalle</text></g>
<g id="a_det_id_Transacciones"><ellipse class="fmg" stroke="#ffffff" cx="1168.3" cy="893.5" rx="28.1" ry="11.2"/><text class="u" x="1168.3" y="893.5">id_Transacciones</text></g>
<g id="a_det_Cantidad"><ellipse class="e w" cx="994.5" cy="1044.6" rx="28.1" ry="11.2"/><text x="994.5" y="1044.6">Cantidad</text></g>
<g id="a_Costo_Total"><ellipse class="e w" cx="1141" cy="1069.8" rx="28.1" ry="11.2"/><text x="1141" y="1069.8">Costo_Total</text></g>
<g id="a_Costo_Unitario"><ellipse class="e w" cx="1197.2" cy="1036.2" rx="28.1" ry="11.2"/><text x="1197.2" y="1036.2">Costo_Unitario</text></g>

<!-- TRANSACCIONES ATTRIBUTES -->
<g id="a_Tipo_transaccion"><ellipse class="e tr" cx="1377.4" cy="983" rx="28.1" ry="11.2"/><text x="1377.4" y="983">Tipo_transaccion</text></g>
<g id="a_id_Transacciones"><ellipse class="fmg" stroke="#ffffff" cx="1538.7" cy="999.8" rx="28.1" ry="11.2"/><text class="u" x="1538.7" y="999.8">id_Transacciones</text></g>
<g id="a_FechayHoramovimiento"><ellipse class="e tr" cx="1360.2" cy="1072.6" rx="28.1" ry="11.2"/><text x="1360.2" y="1072.6">FechayHoramovimiento</text></g>
<g id="a_Referencia"><ellipse class="e tr" cx="1522.7" cy="1100.6" rx="28.1" ry="11.2"/><text x="1522.7" y="1100.6">Referencia</text></g>

</g>
</svg>
